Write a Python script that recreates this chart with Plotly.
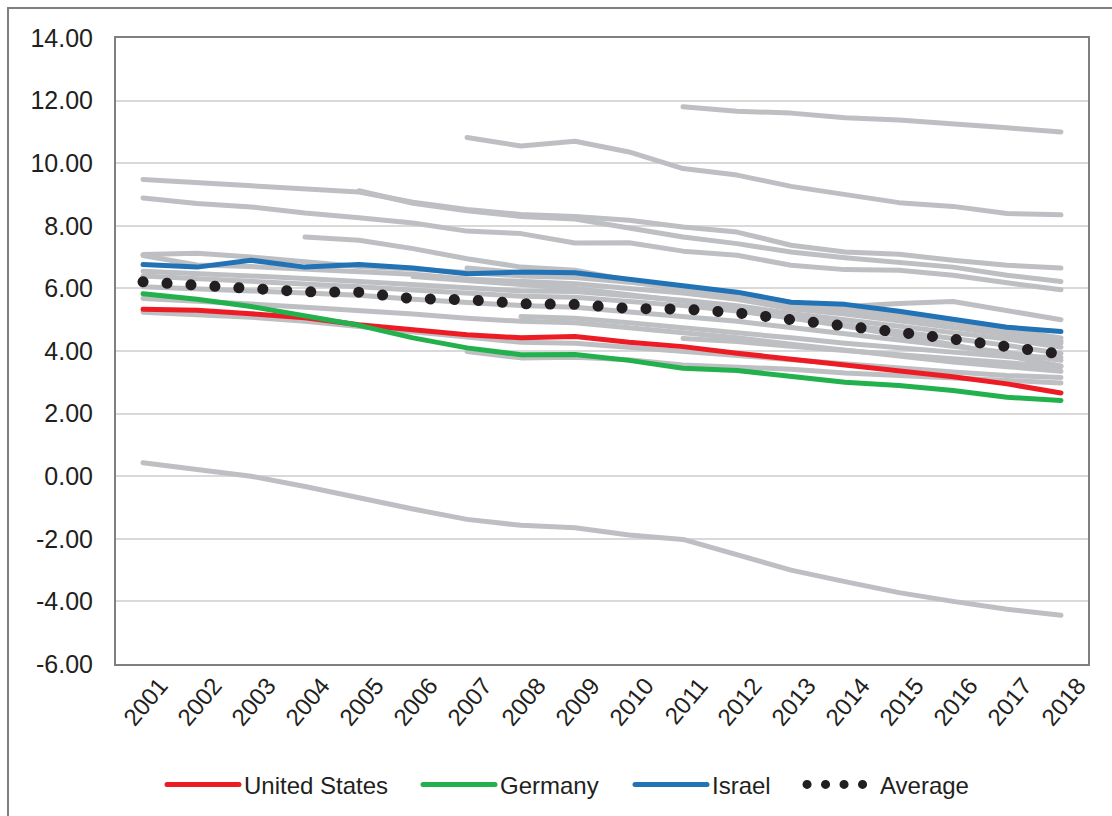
import plotly.graph_objects as go

years = [2001, 2002, 2003, 2004, 2005, 2006, 2007, 2008, 2009, 2010,
         2011, 2012, 2013, 2014, 2015, 2016, 2017, 2018]
year_labels = ["2001", "2002", "2003", "2004", "2005", "2006", "2007", "2008", "2009",
               "2010", "2011", "2012", "2013", "2014", "2015", "2016", "2017", "2018"]

N = None
# Other countries (grey)
gray_a = [N, N, N, N, N, N, N, N, N, N, 11.80, 11.66, 11.60, 11.45, 11.38, 11.27, 11.13, 11.00]
gray_b = [N, N, N, N, N, N, 10.82, 10.55, 10.70, 10.36, 9.83, 9.62, 9.26, 8.98, 8.74, 8.62, 8.39, 8.35]
gray_c = [9.48, 9.37, 9.30, 9.18, 9.08, 8.75, 8.52, 8.36, 8.30, 8.18, 7.96, 7.80, 7.38, 7.16, 7.09, 6.90, 6.74, 6.65]
gray_c2 = [N, N, N, N, 9.12, 8.72, 8.48, 8.30, 8.22, 7.91, 7.64, 7.43, 7.16, 6.98, 6.84, 6.68, 6.42, 6.22]
gray_d = [8.89, 8.71, 8.60, 8.41, 8.26, 8.09, 7.83, 7.75, 7.45, 7.46, 7.19, 7.06, 6.74, 6.60, 6.58, 6.42, 6.18, 5.96]
gray_e = [N, N, N, 7.64, 7.54, 7.27, 6.95, 6.68, 6.58, 6.25, 5.95, 5.75, 5.35, 5.42, 5.52, 5.58, 5.30, 5.00]
gray_f = [0.43, 0.22, 0.00, -0.33, -0.70, -1.05, -1.38, -1.57, -1.65, -1.88, -2.02, -2.50, -3.00, -3.37, -3.72, -4.00, -4.25, -4.44]
gray_s1 = [7.08, 7.12, 7.00, 6.85, 6.70, 6.62, 6.50, 6.40, 6.35, 6.20, 6.00, 5.85, 5.55, 5.40, 5.20, 4.95, 4.70, 4.42]
gray_s2 = [7.05, 6.75, 6.70, 6.62, 6.55, 6.45, 6.30, 6.22, 6.15, 6.00, 5.85, 5.65, 5.35, 5.18, 4.98, 4.75, 4.52, 4.25]
gray_s3 = [6.55, 6.48, 6.40, 6.32, 6.22, 6.12, 6.00, 5.92, 5.90, 5.78, 5.62, 5.45, 5.20, 5.00, 4.80, 4.58, 4.38, 4.12]
gray_s4 = [6.40, 6.32, 6.25, 6.15, 6.05, 5.95, 5.85, 5.75, 5.72, 5.60, 5.45, 5.28, 5.05, 4.85, 4.62, 4.40, 4.18, 3.92]
gray_s5 = [6.05, 6.00, 5.92, 5.85, 5.78, 5.65, 5.55, 5.45, 5.40, 5.25, 5.10, 4.95, 4.75, 4.55, 4.35, 4.15, 3.95, 3.70]
gray_s6 = [5.68, 5.60, 5.50, 5.40, 5.30, 5.18, 5.05, 4.95, 4.90, 4.75, 4.60, 4.42, 4.22, 4.02, 3.85, 3.65, 3.50, 3.35]
gray_s7 = [5.24, 5.18, 5.08, 4.95, 4.78, 4.58, 4.42, 4.28, 4.25, 4.12, 4.00, 3.85, 3.70, 3.58, 3.45, 3.33, 3.22, 3.15]
gray_n1 = [N, N, N, N, N, 6.38, 6.25, 6.10, 6.00, 5.80, 5.60, 5.35, 5.05, 4.80, 4.50, 4.20, 3.85, 3.52]
gray_m1 = [N, N, N, N, N, N, 6.65, 6.50, 6.42, 6.20, 6.00, 5.80, 5.50, 5.30, 5.10, 4.90, 4.65, 4.32]
gray_m2 = [N, N, N, N, N, N, 3.98, 3.78, 3.80, 3.72, 3.55, 3.50, 3.42, 3.30, 3.22, 3.15, 3.05, 2.98]
gray_p1 = [N, N, N, N, N, N, N, 5.10, 5.05, 4.90, 4.75, 4.60, 4.42, 4.25, 4.10, 3.95, 3.82, 3.80]
gray_p2 = [N, N, N, N, N, N, N, N, N, N, 4.40, 4.30, 4.15, 4.00, 3.88, 3.75, 3.62, 3.50]

gray_series = [gray_a, gray_b, gray_c, gray_c2, gray_d, gray_e, gray_f, gray_s1, gray_s2,
               gray_s3, gray_s4, gray_s5, gray_s6, gray_s7, gray_n1, gray_m1, gray_m2,
               gray_p1, gray_p2]

us = [5.33, 5.30, 5.19, 5.06, 4.84, 4.66, 4.52, 4.42, 4.46, 4.28, 4.14, 3.93, 3.75, 3.56, 3.38, 3.18, 2.95, 2.66]
germany = [5.83, 5.65, 5.42, 5.10, 4.82, 4.42, 4.10, 3.88, 3.89, 3.70, 3.45, 3.38, 3.18, 3.00, 2.90, 2.74, 2.52, 2.42]
israel = [6.76, 6.68, 6.90, 6.68, 6.76, 6.65, 6.47, 6.52, 6.50, 6.28, 6.06, 5.88, 5.56, 5.49, 5.27, 5.00, 4.76, 4.62]
average = [6.21, 6.10, 5.97, 5.89, 5.88, 5.67, 5.64, 5.51, 5.49, 5.36, 5.34, 5.22, 5.00, 4.76, 4.60, 4.38, 4.12, 3.90]

y_ticks = [-6, -4, -2, 0, 2, 4, 6, 8, 10, 12, 14]
y_tick_labels = ["-6.00", "-4.00", "-2.00", "0.00", "2.00", "4.00", "6.00", "8.00",
                 "10.00", "12.00", "14.00"]

GRAY = "#bebfc3"
FONT = "Liberation Sans, Arial, sans-serif"
TXT = "#231f20"

fig = go.Figure()
for s in gray_series:
    fig.add_trace(go.Scatter(x=years, y=s, mode="lines", showlegend=False,
                             line=dict(color=GRAY, width=5), hoverinfo="skip"))

fig.add_trace(go.Scatter(x=years, y=us, mode="lines", name="United States",
                         legend="legend", line=dict(color="#ed1c24", width=5)))
fig.add_trace(go.Scatter(x=years, y=germany, mode="lines", name="Germany",
                         legend="legend2", line=dict(color="#22b14c", width=5)))
fig.add_trace(go.Scatter(x=years, y=israel, mode="lines", name="Israel",
                         legend="legend3", line=dict(color="#2272b6", width=5)))
fig.add_trace(go.Scatter(x=years, y=average, mode="lines", name="Average",
                         legend="legend4",
                         line=dict(color=TXT, width=10, dash="9px,15px")))

PW = 972.0


def leg(px, iw):
    return dict(orientation="h", x=(px - 116) / PW, xanchor="left", y=-0.193,
                yanchor="middle", font=dict(size=24, color=TXT), itemwidth=iw,
                bgcolor="rgba(0,0,0,0)")


fig.update_layout(
    width=1112, height=816,
    margin=dict(l=116, r=24, t=38, b=152, autoexpand=False),
    paper_bgcolor="white", plot_bgcolor="white",
    font=dict(family=FONT, size=24, color=TXT),
    showlegend=True,
    legend=leg(162, 72), legend2=leg(418, 72), legend3=leg(630, 72), legend4=leg(802, 68),
    shapes=[dict(type="rect", xref="paper", yref="paper",
                 x0=-108 / PW, x1=1130 / PW, y0=-200 / 626, y1=1 + 30 / 626,
                 line=dict(color="#7f7f7f", width=2), fillcolor="rgba(0,0,0,0)",
                 layer="below")],
)
fig.update_xaxes(range=[2000.5, 2018.5], tickmode="array", tickvals=years,
                 ticktext=year_labels, tickangle=-50, showgrid=False, zeroline=False,
                 showline=True, linecolor="#7f7f7f", linewidth=2, mirror=True,
                 ticks="", tickfont=dict(size=24, color=TXT), ticklabelshift=17,
                 ticklabelstandoff=-4, automargin=False)
fig.update_yaxes(range=[-6, 14], tickmode="array", tickvals=y_ticks, ticktext=y_tick_labels,
                 showgrid=True, gridcolor="#d9d9d9", gridwidth=2, zeroline=False,
                 showline=True, linecolor="#7f7f7f", linewidth=2, mirror=True,
                 ticks="", tickfont=dict(size=25, color=TXT), ticklabelstandoff=16,
                 automargin=False)

post = """
document.body.style.margin = '0';
document.body.style.padding = '0';
var gd = document.getElementById('{plot_id}');
function isAvg(p){
  var s = (p.style.stroke || p.getAttribute('stroke') || '').replace(/\\s/g, '');
  return s.indexOf('35,31,32') >= 0 || s.toLowerCase() === '#231f20';
}
function fixDots(){
  gd.querySelectorAll('path.js-line').forEach(function(p){
    p.style.strokeLinecap = 'round'; p.style.strokeLinejoin = 'round';
    if (isAvg(p)) {
      if (p.closest('.scatterlayer')) {
        p.style.strokeDasharray = '0.1px,23.9px'; p.style.strokeWidth = '11px';
      } else {
        p.style.strokeDasharray = '0.1px,18.4px'; p.style.strokeWidth = '9px';
      }
    }
  });
}
fixDots();
gd.on('plotly_afterplot', fixDots);
"""

fig.write_html("out.html", post_script=post, config={"displayModeBar": False})
